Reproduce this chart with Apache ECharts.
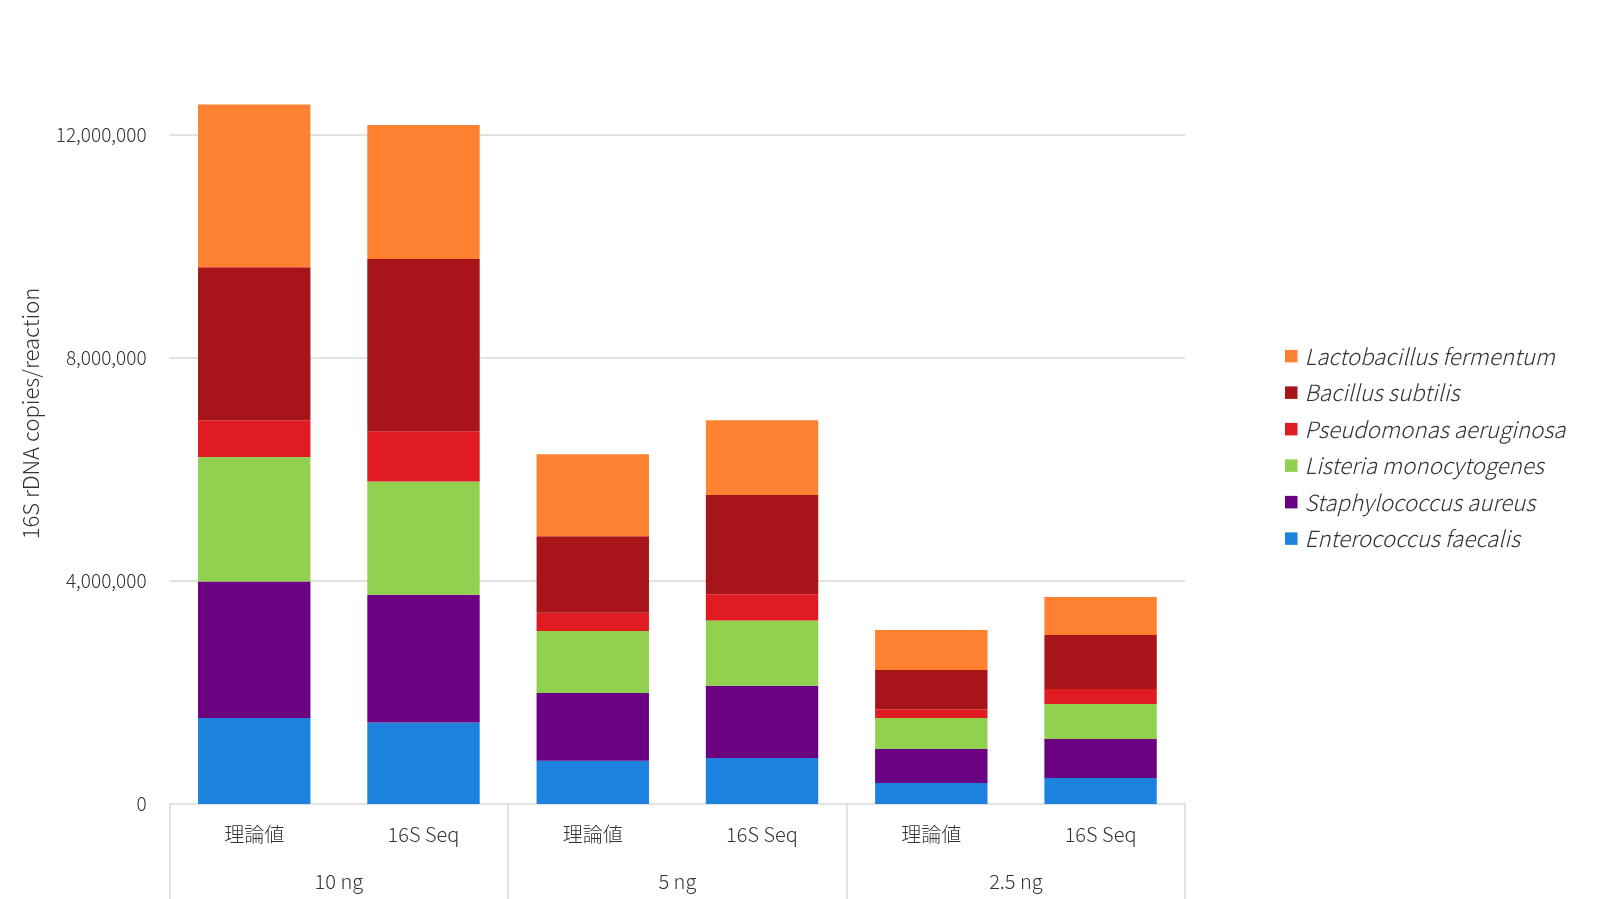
<!DOCTYPE html>
<html>
<head>
<meta charset="utf-8">
<script src="https://cdn.jsdelivr.net/npm/echarts@6/dist/echarts.min.js"></script>
<style>
html,body{margin:0;padding:0;background:#fff;}
#chart{width:1602px;height:899px;}
</style>
</head>
<body>
<div id="chart"></div>
<script>
const groupLabels = ['10 ng', '5 ng', '2.5 ng'];
const innerLabels = ['理論値', '16S Seq'];
const yTicks = [0, 4000000, 8000000, 12000000];

const enterococcus = [1540000, 1460000, 776000, 824000, 376000, 466000];
const staphylococcus = [2450000, 2290000, 1214000, 1296000, 610000, 700000];
const listeria = [2230000, 2030000, 1110000, 1170000, 554000, 625000];
const pseudomonas = [660000, 900000, 330000, 470000, 160000, 270000];
const bacillus = [2740000, 3090000, 1370000, 1780000, 700000, 970000];
const lactobacillus = [2920000, 2400000, 1470000, 1340000, 720000, 680000];

const seriesNames = ['Enterococcus faecalis', 'Staphylococcus aureus', 'Listeria monocytogenes',
  'Pseudomonas aeruginosa', 'Bacillus subtilis', 'Lactobacillus fermentum'];
const seriesData = [enterococcus, staphylococcus, listeria, pseudomonas, bacillus, lactobacillus];
const colors = ['#1C82DE', '#6B0083', '#92D050', '#E01B22', '#A71419', '#FE8131'];

const categories = [];
groupLabels.forEach(g => innerLabels.forEach(l => categories.push(g + '|' + l)));

const font = '"Noto Sans CJK JP", "Noto Sans", sans-serif';
const textColor = '#333333';

const chart = echarts.init(document.getElementById('chart'), null, {renderer: 'canvas'});
chart.setOption({
  animation: false,
  backgroundColor: '#ffffff',
  grid: {left: 169.6, right: 416.8, top: 23, bottom: 95, containLabel: false},
  legend: {
    orient: 'vertical',
    left: 1280,
    top: 340,
    itemWidth: 12.5,
    itemHeight: 12.5,
    itemGap: 14.2,
    icon: 'rect',
    data: seriesNames.slice().reverse(),
    textStyle: {
      fontFamily: font, fontSize: 22.3, fontStyle: 'italic', fontWeight: 300, color: textColor,
      lineHeight: 22, padding: [0, 0, 0, 2]
    }
  },
  xAxis: [
    {
      type: 'category',
      data: categories,
      position: 'bottom',
      axisLine: {show: true, lineStyle: {color: '#d9d9d9', width: 1.5}},
      axisTick: {show: false},
      axisLabel: {
        margin: 20,
        fontFamily: font, fontSize: 20, fontWeight: 300, color: textColor,
        formatter: v => v.split('|')[1]
      },
      splitLine: {show: false}
    },
    {
      type: 'category',
      data: groupLabels,
      position: 'bottom',
      axisLine: {show: false},
      axisTick: {show: true, length: 95, lineStyle: {color: '#d9d9d9', width: 1.5}},
      axisLabel: {margin: 67, fontFamily: font, fontSize: 20, fontWeight: 300, color: textColor},
      splitLine: {show: false}
    }
  ],
  yAxis: {
    type: 'value',
    min: 0,
    max: 14000000,
    interval: 4000000,
    name: '16S rDNA copies/reaction',
    nameLocation: 'middle',
    nameGap: 128,
    nameTextStyle: {fontFamily: font, fontSize: 22, fontWeight: 300, color: textColor},
    axisLine: {show: false},
    axisTick: {show: false},
    axisLabel: {
      margin: 23,
      showMaxLabel: false,
      fontFamily: font, fontSize: 19, fontWeight: 300, color: textColor,
      formatter: v => yTicks.includes(v) ? v.toLocaleString('en-US') : ''
    },
    splitLine: {show: true, showMaxLine: false, showMinLine: false, lineStyle: {color: '#d9d9d9', width: 1.5}}
  },
  series: seriesNames.map((name, i) => ({
    name: name,
    type: 'bar',
    stack: 'total',
    xAxisIndex: 0,
    barWidth: '66.4%',
    itemStyle: {color: colors[i]},
    data: seriesData[i]
  }))
});
</script>
</body>
</html>
